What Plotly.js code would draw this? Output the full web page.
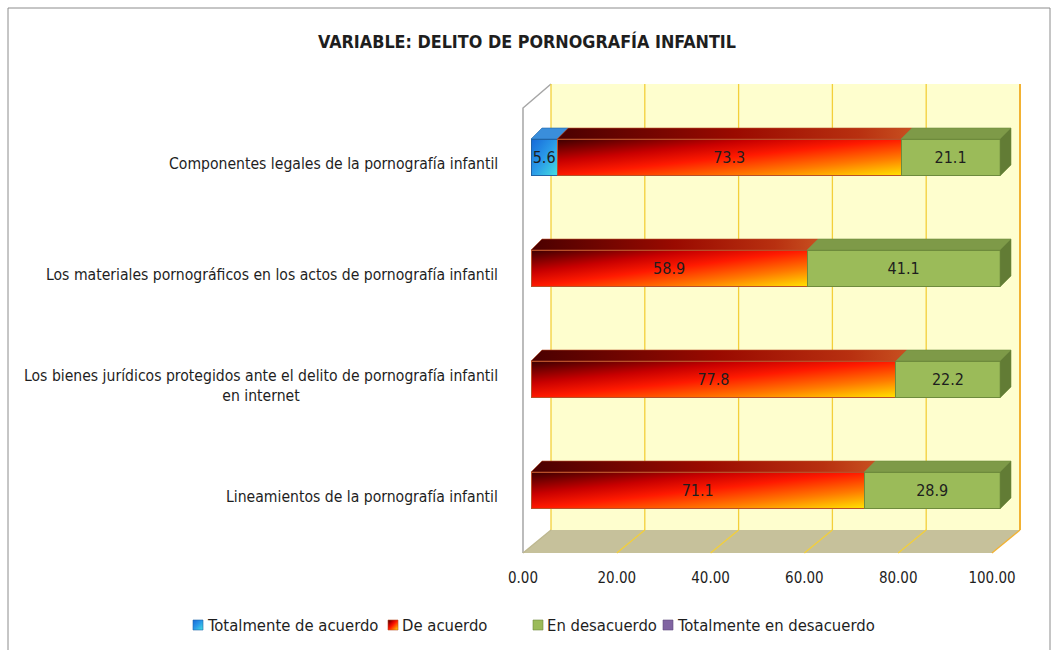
<!DOCTYPE html>
<html><head><meta charset="utf-8">
<script src="https://cdn.plot.ly/plotly-3.0.1.min.js"></script>
<style>html,body{margin:0;padding:0;background:#fff;} #chart{width:1059px;height:650px;}</style>
</head><body><div id="chart"></div>
<script>
// ---- data ----
const categories = [
  'Componentes legales de la pornografía infantil',
  'Los materiales pornográficos en los actos de pornografía infantil',
  'Los bienes jurídicos protegidos ante el delito de pornografía infantil<br>en internet',
  'Lineamientos de la pornografía infantil'
];
const seriesNames = ['Totalmente de acuerdo', 'De acuerdo', 'En desacuerdo', 'Totalmente en desacuerdo'];
const totalmenteDeAcuerdo = [5.6, 0, 0, 0];
const deAcuerdo = [73.3, 58.9, 77.8, 71.1];
const enDesacuerdo = [21.1, 41.1, 22.2, 28.9];
const totalmenteEnDesacuerdo = [0, 0, 0, 0];
const xTickVals = [0, 20, 40, 60, 80, 100];
const xTickText = ['0.00', '20.00', '40.00', '60.00', '80.00', '100.00'];
const chartTitle = 'VARIABLE: DELITO DE PORNOGRAFÍA INFANTIL';

// ---- layout geometry (pixels) ----
const FIG_W = 1059, FIG_H = 650;
const L = 531, R = 1000, T = 102, B = 546;
const W = R - L, H = B - T;
const BARGAP = 0.667;
const DEPTH = 11;
const WALL_DX = 20;
const FLOOR_DX = -8;
const WALL_TOP = 84, WALL_BOT = 530, FLOOR_FRONT = 553, LWALL_TOP = 108;
const LEGEND_Y = 625, LEGEND_SQ = 10;
const LEGEND_LEFT = [193, 388, 533, 663];
const FONT = "'Liberation Sans Narrow', 'DejaVu Sans Condensed', Lato, sans-serif";
const TXT = '#1e1e1e';

const XMIN = 0, XMAX = 100;
const px = v => L + (v - XMIN) / (XMAX - XMIN) * W;
const X = p => (p - L) / W;
const Y = p => (B - p) / H;
const nCat = categories.length;
const yc = i => T + (i + 0.5) * H / nCat;
const hh = (1 - BARGAP) * (H / nCat) / 2;
const pathOf = (pts, close) => 'M' + pts.map(p => X(p[0]).toFixed(5) + ',' + Y(p[1]).toFixed(5)).join('L') + (close === false ? '' : 'Z');

const series = [totalmenteDeAcuerdo, deAcuerdo, enDesacuerdo, totalmenteEnDesacuerdo];
const colors = ['#1E7FE0', '#FF2A00', '#9BBB59', '#8064A2'];
const lineColors = ['#2064A8', '#B8502A', '#6E8B3D', '#5E4A7E'];

const traces = series.map((vals, k) => ({
  type: 'bar', orientation: 'h', name: seriesNames[k],
  y: categories, x: vals,
  text: vals.map(v => v > 0 ? v.toFixed(1) : ''),
  textposition: 'inside', insidetextanchor: 'middle', textangle: 0, constraintext: 'none',
  textfont: {family: FONT, size: 16, color: TXT},
  marker: {color: colors[k], line: {color: lineColors[k], width: (k === 3 ? 0 : 1)}},
  hoverinfo: 'skip', showlegend: false
}));

// ---- shapes ----
const shapes = [];
const gradShapes = {red: [], blue: []};
shapes.push({type: 'rect', xref: 'paper', yref: 'paper', x0: X(8), x1: X(1050), y0: Y(8), y1: Y(662),
  line: {color: '#8c8c8c', width: 1}, fillcolor: 'rgba(0,0,0,0)', layer: 'below'});
shapes.push({type: 'path', xref: 'paper', yref: 'paper', layer: 'below',
  path: pathOf([[px(XMIN) + WALL_DX, WALL_TOP], [px(XMAX) + WALL_DX, WALL_TOP], [px(XMAX) + WALL_DX, WALL_BOT], [px(XMIN) + WALL_DX, WALL_BOT]]),
  fillcolor: '#FEFECE', line: {width: 0}});
shapes.push({type: 'path', xref: 'paper', yref: 'paper', layer: 'below',
  path: pathOf([[px(XMIN) + WALL_DX, WALL_BOT], [px(XMAX) + WALL_DX, WALL_BOT], [px(XMAX) + FLOOR_DX, FLOOR_FRONT], [px(XMIN) + FLOOR_DX, FLOOR_FRONT]]),
  fillcolor: '#C6C19B', line: {width: 0}});
shapes.push({type: 'path', xref: 'paper', yref: 'paper', layer: 'below',
  path: pathOf([[px(XMIN) + FLOOR_DX, FLOOR_FRONT], [px(XMIN) + FLOOR_DX, LWALL_TOP], [px(XMIN) + WALL_DX, WALL_TOP]], false),
  fillcolor: 'rgba(0,0,0,0)', line: {color: '#A6A6A6', width: 1.5}});
xTickVals.forEach((t, j) => {
  const last = j === xTickVals.length - 1;
  const gc = last ? '#F2B233' : '#F3CF3A';
  shapes.push({type: 'line', xref: 'paper', yref: 'paper', layer: 'below',
    x0: X(px(t) + WALL_DX), x1: X(px(t) + WALL_DX), y0: Y(WALL_TOP), y1: Y(WALL_BOT),
    line: {color: gc, width: last ? 2 : 1.3}});
  shapes.push({type: 'line', xref: 'paper', yref: 'paper', layer: 'below',
    x0: X(px(t) + WALL_DX), x1: X(px(t) + FLOOR_DX), y0: Y(WALL_BOT), y1: Y(FLOOR_FRONT),
    line: {color: j === 0 ? '#BDB78F' : gc, width: 1.3}});
});
const topColors = ['#3A8EDB', '#A01000', '#7E9A48', '#6A528A'];
const sideColors = ['#1C5FA8', '#8A1A00', '#627C35', '#4E3C6A'];
for (let i = 0; i < nCat; i++) {
  let s = 0, lastK = -1, lastE = 0;
  const top = yc(i) - hh, bot = yc(i) + hh;
  series.forEach((vals, k) => {
    const v = vals[i];
    if (v <= 0) return;
    const e = s + v;
    shapes.push({type: 'path', xref: 'paper', yref: 'paper', layer: 'above',
      path: pathOf([[px(s), top], [px(s) + DEPTH, top - DEPTH], [px(e) + DEPTH, top - DEPTH], [px(e), top]]),
      fillcolor: topColors[k], line: {color: lineColors[k], width: 0.6}});
    if (k === 1) gradShapes.red.push(shapes.length - 1);
    lastK = k; lastE = e;
    s = e;
  });
  if (lastK >= 0) {
    shapes.push({type: 'path', xref: 'paper', yref: 'paper', layer: 'above',
      path: pathOf([[px(lastE), top], [px(lastE) + DEPTH, top - DEPTH], [px(lastE) + DEPTH, bot - DEPTH], [px(lastE), bot]]),
      fillcolor: sideColors[lastK], line: {color: lineColors[lastK], width: 0.6}});
  }
}
// legend squares
const legendSq = [];
seriesNames.forEach((n, k) => {
  const x0 = LEGEND_LEFT[k];
  shapes.push({type: 'rect', xref: 'paper', yref: 'paper', layer: 'above',
    x0: X(x0), x1: X(x0 + LEGEND_SQ), y0: Y(LEGEND_Y - LEGEND_SQ / 2), y1: Y(LEGEND_Y + LEGEND_SQ / 2),
    fillcolor: colors[k], line: {color: lineColors[k], width: 0.6}});
  legendSq.push(shapes.length - 1);
});

const annotations = categories.map(c => ({
  xref: 'paper', yref: 'y', x: X(L - 31), y: c, xanchor: 'right', yanchor: 'middle',
  text: c, showarrow: false, align: 'center', yshift: -6,
  font: {family: FONT, size: 15.6, color: TXT}
}));
seriesNames.forEach((n, k) => {
  annotations.push({xref: 'paper', yref: 'paper', x: X(LEGEND_LEFT[k] + LEGEND_SQ + 2), y: Y(LEGEND_Y),
    xanchor: 'left', yanchor: 'middle', text: n, showarrow: false,
    font: {family: FONT, size: 16.5, color: TXT}});
});

const layout = {
  width: FIG_W, height: FIG_H,
  margin: {l: L, r: FIG_W - R, t: T, b: FIG_H - B, pad: 0},
  paper_bgcolor: '#ffffff', plot_bgcolor: 'rgba(0,0,0,0)',
  barmode: 'stack', bargap: BARGAP,
  title: {text: chartTitle, font: {family: FONT, size: 17.8, color: TXT, weight: 'bold'},
    xref: 'container', x: 527 / FIG_W, xanchor: 'center', yref: 'container', y: 1 - 42 / FIG_H, yanchor: 'middle'},
  xaxis: {range: [XMIN, XMAX], tickvals: xTickVals, ticktext: xTickText, showgrid: false, zeroline: false,
    showline: false, ticks: '', ticklabelstandoff: 21, ticklabelshift: -8,
    tickfont: {family: FONT, size: 15, color: TXT}, fixedrange: true},
  yaxis: {type: 'category', range: [nCat - 0.5, -0.5], showticklabels: false, showgrid: false,
    zeroline: false, showline: false, ticks: '', fixedrange: true},
  shapes: shapes,
  annotations: annotations,
  showlegend: false
};

function applyGradients(gd) {
  const ns = 'http://www.w3.org/2000/svg';
  const svg = gd.querySelector('svg.main-svg');
  let defs = svg.querySelector('defs');
  if (!defs) { defs = document.createElementNS(ns, 'defs'); svg.insertBefore(defs, svg.firstChild); }
  function grad(id, x2, y2, stops) {
    if (document.getElementById(id)) return;
    const g = document.createElementNS(ns, 'linearGradient');
    g.setAttribute('id', id);
    g.setAttribute('x1', '0'); g.setAttribute('y1', '0'); g.setAttribute('x2', x2); g.setAttribute('y2', y2);
    stops.forEach(([o, c]) => { const st = document.createElementNS(ns, 'stop'); st.setAttribute('offset', o); st.setAttribute('stop-color', c); g.appendChild(st); });
    defs.appendChild(g);
  }
  grad('gRed', '1', '1', [[0, '#3A0000'], [0.3, '#C80000'], [0.5, '#FF1A00'], [0.75, '#FF7A00'], [1, '#FFE600']]);
  grad('gRedTop', '1', '0', [[0, '#4A0000'], [0.5, '#9A0A00'], [0.85, '#B83010'], [1, '#C85020']]);
  grad('gBlue', '1', '1', [[0, '#1668D8'], [0.5, '#2A9AE8'], [1, '#45E0E0']]);
  const bt = gd.querySelectorAll('.barlayer .trace');
  if (bt[0]) bt[0].querySelectorAll('path').forEach(p => p.style.fill = 'url(#gBlue)');
  if (bt[1]) bt[1].querySelectorAll('path').forEach(p => p.style.fill = 'url(#gRed)');
  const setShape = (k, f) => gd.querySelectorAll('.shapelayer path[data-index="' + k + '"]').forEach(p => p.style.fill = f);
  gradShapes.red.forEach(k => setShape(k, 'url(#gRedTop)'));
  setShape(legendSq[0], 'url(#gBlue)');
  setShape(legendSq[1], 'url(#gRed)');
}

const gd = document.getElementById('chart');
Plotly.newPlot(gd, traces, layout, {displayModeBar: false, staticPlot: true}).then(() => {
  applyGradients(gd);
  gd.on('plotly_afterplot', () => applyGradients(gd));
});
</script>
</body></html>
